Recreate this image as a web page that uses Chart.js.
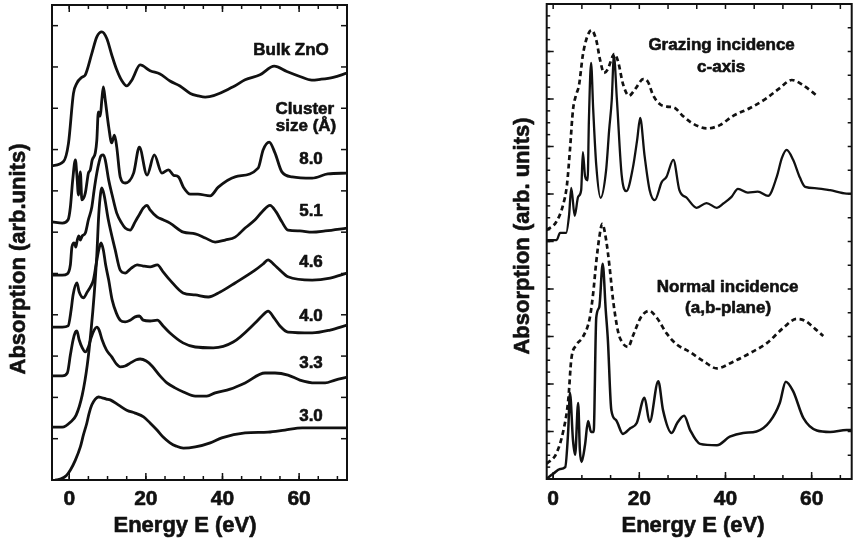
<!DOCTYPE html>
<html><head><meta charset="utf-8">
<script src="https://cdn.jsdelivr.net/npm/chart.js@4.4.0/dist/chart.umd.min.js"></script>
<style>
html,body{margin:0;padding:0;background:#fff;}
#wrap{position:relative;width:857px;height:542px;overflow:hidden;background:#fff;}
canvas{position:absolute;top:0;}
</style></head><body>
<div id="wrap">
<canvas id="left" width="430" height="542" style="left:0;width:430px;height:542px"></canvas>
<canvas id="right" width="427" height="542" style="left:430px;width:427px;height:542px"></canvas>
</div>
<script>
// ---------- Left panel: cluster-size spectra (energy in eV, absorption incl. vertical offset) ----------
const bulkE = [-4.5,-1.5,-0.2,1.1,2.0,3.3,4.2,5.9,7.2,8.5,9.8,11.1,12.4,13.7,15.0,16.4,18.5,21.1,23.7,26.3,28.9,31.6,33.7,35.5,42.8,45.9,49.8,53.5,56.8,60.2,63.3,65.5,68.9,72.5];
const bulkA = [7.61,7.71,8.15,9.36,9.61,9.75,9.81,10.33,10.73,10.85,10.69,10.29,9.93,9.67,9.54,9.69,10.05,9.91,9.83,9.66,9.54,9.36,9.30,9.27,9.52,9.69,9.81,10.02,9.89,9.77,9.68,9.70,9.75,9.85];

const c80E = [-4.4,-1.8,-0.3,0.3,0.9,1.6,2.0,2.4,2.9,3.3,4.2,4.6,5.0,5.5,6.0,6.8,7.2,7.6,8.1,8.5,8.9,9.4,10.3,11.1,11.8,12.4,13.3,14.6,16.8,18.3,20.3,22.2,24.2,25.9,27.2,28.5,29.8,31.6,33.6,36.8,38.9,43.3,49.3,50.6,52.2,53.7,55.5,58.2,63.4,67.5,72.5];
const c80A = [6.25,6.22,6.30,6.61,7.26,7.75,7.38,6.90,7.46,6.78,6.95,7.19,7.43,7.51,7.75,7.92,8.23,8.91,8.81,9.20,9.52,9.20,8.55,8.16,8.35,8.06,7.34,7.19,7.43,8.06,7.38,7.87,7.43,7.51,7.38,7.34,7.09,6.92,6.92,6.88,7.09,7.34,7.55,7.99,8.18,7.92,7.46,7.34,7.31,7.41,7.43];

const c51E = [-4.4,-1.8,-0.5,0.3,0.7,1.3,1.7,2.1,2.5,2.9,3.4,4.2,5.0,5.9,6.5,7.2,7.8,8.3,8.9,9.4,10.3,11.2,12.4,13.7,14.6,15.9,17.2,18.5,19.3,20.3,21.1,22.9,24.5,26.3,29.8,32.9,35.5,38.1,40.7,43.3,45.9,48.5,50.3,52.4,54.0,55.5,57.1,60.2,63.4,66.8,72.5];
const c51A = [4.96,4.96,4.99,5.21,5.64,5.74,5.64,5.81,5.91,5.81,5.91,5.98,6.30,6.61,7.02,7.43,7.70,7.85,7.87,7.75,7.26,6.90,6.46,6.22,6.10,6.05,6.25,6.46,6.58,6.65,6.54,6.37,6.30,6.22,6.00,5.96,5.86,5.76,5.81,5.88,6.10,6.30,6.49,6.65,6.49,6.25,6.05,6.03,6.00,6.03,6.10];

const c46E = [-4.4,-1.8,0.3,1.8,3.4,4.7,5.7,6.5,7.2,7.7,8.2,8.5,9.1,10.2,12.0,13.3,14.6,16.2,17.7,19.3,21.1,23.0,24.5,26.3,29.7,32.9,36.3,39.4,43.3,48.5,50.6,51.9,53.5,55.0,57.1,63.4,68.1,72.5];
const c46A = [1.28,1.28,1.40,1.57,2.06,2.78,3.63,4.48,5.45,6.42,6.95,7.07,6.90,6.30,5.57,5.08,5.01,5.13,5.21,5.18,5.16,5.21,5.04,4.84,4.53,4.48,4.43,4.55,4.77,5.08,5.23,5.33,5.21,5.08,4.92,4.84,4.89,5.01];

const c40E = [-4.4,-1.8,-0.3,0.5,1.0,2.0,2.6,3.7,4.7,5.5,6.3,7.0,7.7,8.3,8.9,9.5,10.3,11.2,12.3,13.3,14.6,15.9,17.2,18.3,19.3,21.1,23.0,24.5,26.3,29.7,32.9,37.6,42.8,48.5,50.3,51.9,53.5,55.0,57.1,63.4,68.1,72.5];
const c40A = [3.70,3.70,3.73,4.12,4.48,4.77,4.55,4.41,4.55,4.67,4.84,5.21,5.57,5.74,5.57,5.21,4.84,4.36,4.04,3.87,3.83,3.87,3.95,3.97,3.87,3.85,3.87,3.73,3.56,3.32,3.22,3.20,3.34,3.80,3.97,4.09,3.92,3.73,3.58,3.56,3.63,3.75];

const c33E = [-4.4,-1.8,-0.5,0.3,1.0,1.6,2.0,2.6,3.4,4.2,5.0,5.7,6.5,7.2,7.8,8.6,9.7,11.1,12.3,13.3,14.6,15.9,17.5,18.5,20.1,21.6,23.7,25.5,27.6,29.8,32.9,35.9,38.1,42.0,45.9,51.1,53.7,57.1,60.2,64.2,66.8,69.4,72.5];
const c33A = [2.52,2.52,2.59,3.03,3.39,3.58,3.61,3.39,3.20,3.10,3.22,3.44,3.63,3.70,3.63,3.39,3.15,2.98,2.81,2.74,2.76,2.83,2.91,2.93,2.88,2.76,2.52,2.35,2.23,2.13,2.03,2.03,2.11,2.20,2.35,2.59,2.59,2.54,2.42,2.35,2.35,2.42,2.49];

const c30E = [-3.6,-2.3,-0.8,0.3,1.6,2.9,3.7,4.6,5.2,5.9,6.8,7.6,8.6,9.7,10.7,12.8,15.0,17.2,19.4,21.1,22.9,24.5,26.3,27.9,29.8,32.9,36.8,39.8,45.9,51.9,56.3,60.8,65.5,72.5];
const c30A = [0.00,0.02,0.10,0.24,0.48,0.80,1.09,1.38,1.62,1.82,1.96,2.01,1.99,1.96,1.94,1.82,1.69,1.62,1.53,1.38,1.21,1.04,0.90,0.82,0.77,0.80,0.90,1.02,1.14,1.16,1.21,1.26,1.26,1.26];

// ---------- Right panel: polarised spectra ----------
const grazDashE = [-1.5,0.7,2.3,3.2,3.9,4.6,5.3,6.0,6.9,7.9,8.9,10.0,10.9,11.8,12.7,13.7,14.2,15.1,16.2,17.6,19.2,20.9,22.0,23.2,24.8,26.4,28.1,29.9,31.8,34.1,35.7,38.7,41.7,45.7,49.6,52.6,55.4,58.0,61.5];
const grazDashA = [5.24,5.41,5.77,6.19,6.93,7.77,8.08,8.29,8.93,9.31,9.45,9.24,8.82,8.55,8.63,8.88,8.95,8.78,8.32,8.07,8.23,8.42,8.36,8.08,7.89,7.84,7.82,7.66,7.52,7.41,7.38,7.45,7.64,7.81,8.02,8.23,8.40,8.29,8.05];

const grazSolidE = [-1.5,0.8,1.6,3.0,3.7,4.2,5.0,5.8,6.5,6.9,7.4,8.0,8.3,8.8,9.3,10.0,11.0,12.3,13.0,13.6,14.1,14.8,15.9,17.0,18.5,19.5,20.2,21.2,22.4,23.6,25.2,26.3,27.9,29.3,31.0,33.3,35.6,38.0,39.5,41.4,42.9,45.2,47.5,49.9,51.9,53.1,54.2,55.7,57.3,58.5,61.2,64.3,68.1,69.3];
const grazSolidA = [5.03,5.03,5.18,5.18,5.56,6.13,5.54,5.94,6.08,6.88,6.38,6.29,7.56,8.76,7.77,6.61,5.92,6.51,7.35,7.98,8.91,7.98,6.40,6.06,6.55,7.14,7.60,6.82,6.08,5.87,6.25,6.36,6.72,6.08,5.92,5.71,5.81,5.71,5.80,5.94,6.11,6.03,6.05,5.96,6.36,6.76,6.93,6.72,6.34,6.15,6.12,6.08,6.01,6.01];

const normDashE = [-1.5,0.7,2.3,3.5,4.2,5.4,6.9,8.5,9.3,10.0,10.8,11.4,12.3,13.1,13.9,15.1,16.0,17.4,18.5,20.4,22.3,24.1,26.3,28.6,31.8,34.9,38.0,41.8,45.7,49.6,53.4,56.5,58.5,60.8,62.7];
const normDashA = [0.32,0.53,0.99,1.66,2.51,2.82,2.99,3.39,3.92,4.57,5.14,5.37,5.03,4.46,3.77,3.09,2.88,2.78,3.01,3.41,3.54,3.39,3.07,2.84,2.67,2.48,2.33,2.47,2.65,2.86,3.18,3.37,3.33,3.16,3.01];

const normSolidE = [-1.5,0.0,1.6,2.8,3.5,3.9,4.6,5.1,5.8,6.2,6.6,7.4,8.1,8.8,9.4,10.0,10.7,11.5,12.2,12.7,13.5,14.6,16.2,17.9,19.4,21.2,22.4,24.4,25.5,27.5,28.8,30.4,31.8,34.1,38.0,41.0,44.1,47.2,50.3,52.6,54.0,55.7,58.1,61.2,64.3,68.1,69.3];
const normSolidA = [0.01,0.11,0.21,0.25,1.03,1.81,0.82,0.51,1.60,0.61,0.36,0.72,1.22,0.99,0.99,3.39,3.62,4.53,3.56,2.93,1.45,1.24,0.95,1.07,1.18,1.71,1.20,2.06,1.45,0.97,1.18,1.33,1.03,0.74,0.71,0.89,0.97,1.00,1.21,1.60,2.05,1.85,1.28,1.02,0.99,1.03,1.03];

// ---------- tick labels & texts ----------
const leftTickLabels = [0, 20, 40, 60];
const rightTickLabels = [0, 20, 40, 60];
const xTitleText = 'Energy E (eV)';
const leftYTitleText = 'Absorption (arb.units)';
const rightYTitleText = 'Absorption (arb. units)';
const leftNoteTexts = ['Bulk ZnO', 'Cluster', 'size (Å)', '8.0', '5.1', '4.6', '4.0', '3.3', '3.0'];
const rightNoteTexts = ['Grazing incidence', 'c-axis', 'Normal incidence', '(a,b-plane)'];

// ---------- helpers ----------
const FONT = '"Liberation Sans", Arial, Helvetica, sans-serif';
const INK = '#111';
function pts(xs, ys) { return xs.map((v, i) => ({x: v, y: ys[i]})); }
function series(xs, ys, width, dash) {
  return {data: pts(xs, ys), borderColor: INK, borderWidth: width, borderDash: dash || [],
          pointRadius: 0, cubicInterpolationMode: 'monotone', fill: false, borderCapStyle: 'butt', borderJoinStyle: 'round'};
}
function range(a, b, s) { const r = []; for (let k = 0; a + k * s <= b + 1e-9; k++) r.push(a + k * s); return r; }

function boldText(ctx, txt, x, y) {
  ctx.fillText(txt, x, y);
  ctx.lineWidth = 0.6;
  ctx.strokeText(txt, x, y);
}

const decor = {
  id: 'decor',
  afterDraw(chart, args, o) {
    const {ctx, chartArea: a, scales: {x, y}} = chart;
    ctx.save();
    ctx.strokeStyle = INK; ctx.fillStyle = INK;
    ctx.lineWidth = 1.5;
    const seg = (x1, y1, x2, y2) => { ctx.beginPath(); ctx.moveTo(x1, y1); ctx.lineTo(x2, y2); ctx.stroke(); };
    o.ticks.forEach(t => {
      t.values.forEach(v => {
        if (t.side === 'bottom' || t.side === 'top') {
          const p = x.getPixelForValue(v);
          if (p < a.left + 2 || p > a.right - 2) return;
          if (t.side === 'bottom') seg(p, a.bottom, p, a.bottom - t.len); else seg(p, a.top, p, a.top + t.len);
        } else {
          const p = y.getPixelForValue(v);
          if (p < a.top + 2 || p > a.bottom - 2) return;
          if (t.side === 'left') seg(a.left, p, a.left + t.len, p); else seg(a.right, p, a.right - t.len, p);
        }
      });
    });
    ctx.lineWidth = 2;
    ctx.strokeRect(a.left, a.top, a.right - a.left, a.bottom - a.top);
    ctx.textAlign = 'center'; ctx.textBaseline = 'alphabetic'; ctx.lineJoin = 'round';
    ctx.font = `bold ${o.tickSize}px ${FONT}`;
    o.tickLabels.forEach(v => boldText(ctx, String(v), x.getPixelForValue(v), o.tickBaseline));
    ctx.font = `bold ${o.titleSize}px ${FONT}`;
    boldText(ctx, o.xTitle, (a.left + a.right) / 2 + o.xTitleShift, o.xTitleBaseline);
    ctx.save();
    ctx.translate(o.yTitleBaseline, (a.top + a.bottom) / 2 + o.yTitleShift);
    ctx.rotate(-Math.PI / 2);
    boldText(ctx, o.yTitle, 0, 0);
    ctx.restore();
    ctx.font = `bold ${o.noteSize}px ${FONT}`;
    o.notes.forEach(n => boldText(ctx, n.text, x.getPixelForValue(n.x), y.getPixelForValue(n.y)));
    ctx.restore();
  }
};

const commonOpts = {responsive: false, animation: false, devicePixelRatio: 1, events: []};

// ---------- left chart ----------
const leftNotePos = [[57.9, 10.29], [61.5, 8.86], [61.8, 8.45], [63.1, 7.65], [63.1, 6.39], [63.1, 5.16], [63.1, 3.85], [63.1, 2.71], [63.1, 1.43]];
new Chart(document.getElementById('left'), {
  type: 'line',
  data: {datasets: [
    series(bulkE, bulkA, 2.8), series(c80E, c80A, 2.8), series(c51E, c51A, 2.8), series(c46E, c46A, 2.8),
    series(c40E, c40A, 2.8), series(c33E, c33A, 2.8), series(c30E, c30A, 2.8)
  ]},
  options: Object.assign({}, commonOpts, {
    layout: {padding: {left: 52, right: 83, top: 5, bottom: 62}},
    scales: {x: {type: 'linear', min: -4.5, max: 72.5, display: false}, y: {type: 'linear', min: 0, max: 11.5, display: false}},
    plugins: {legend: {display: false}, tooltip: {enabled: false},
      decor: {
        ticks: [
          {side: 'bottom', values: leftTickLabels, len: 7}, {side: 'bottom', values: range(0, 70, 5), len: 4},
          {side: 'top', values: leftTickLabels, len: 7}, {side: 'top', values: range(0, 70, 5), len: 4},
          {side: 'left', values: range(1, 11, 1), len: 6}, {side: 'right', values: range(1, 11, 1), len: 6}
        ],
        tickLabels: leftTickLabels, tickSize: 21, tickBaseline: 505,
        xTitle: xTitleText, titleSize: 22, xTitleShift: -14.5, xTitleBaseline: 532,
        yTitle: leftYTitleText, yTitleBaseline: 25, yTitleShift: 16.5,
        noteSize: 17,
        notes: leftNoteTexts.map((t, i) => ({text: t, x: leftNotePos[i][0], y: leftNotePos[i][1]}))
      }}
  }),
  plugins: [decor]
});

// ---------- right chart ----------
const rightNotePos = [[39.1, 9.03], [39.0, 8.57], [40.5, 3.94], [40.6, 3.49]];
new Chart(document.getElementById('right'), {
  type: 'line',
  data: {datasets: [
    series(grazDashE, grazDashA, 2.7, [5, 3.5]), series(grazSolidE, grazSolidA, 2.3),
    series(normDashE, normDashA, 2.7, [5, 3.5]), series(normSolidE, normSolidA, 2.5)
  ]},
  options: Object.assign({}, commonOpts, {
    layout: {padding: {left: 116.7, right: 5.3, top: 4, bottom: 63}},
    scales: {x: {type: 'linear', min: -1.5, max: 69.3, display: false}, y: {type: 'linear', min: 0, max: 10, display: false}},
    plugins: {legend: {display: false}, tooltip: {enabled: false},
      decor: {
        ticks: [
          {side: 'bottom', values: rightTickLabels, len: 7}, {side: 'bottom', values: range(0, 68, 20 / 3), len: 4},
          {side: 'top', values: range(0, 68, 20 / 3), len: 5},
          {side: 'left', values: range(1, 9, 1), len: 7}, {side: 'left', values: range(0.25, 9.75, 0.25), len: 3.5},
          {side: 'right', values: range(0.5, 9.5, 0.5), len: 4}
        ],
        tickLabels: rightTickLabels, tickSize: 21, tickBaseline: 505,
        xTitle: xTitleText, titleSize: 22, xTitleShift: -6.2, xTitleBaseline: 532,
        yTitle: rightYTitleText, yTitleBaseline: 99, yTitleShift: -5.5,
        noteSize: 17,
        notes: rightNoteTexts.map((t, i) => ({text: t, x: rightNotePos[i][0], y: rightNotePos[i][1]}))
      }}
  }),
  plugins: [decor]
});
</script>
</body></html>
